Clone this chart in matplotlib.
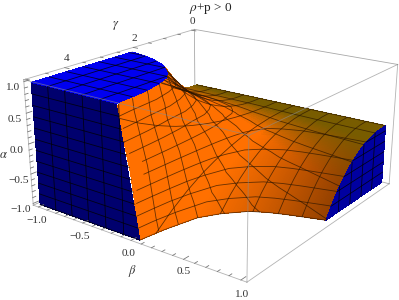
import numpy as np
import matplotlib
matplotlib.use("Agg")
import matplotlib.pyplot as plt
from mpl_toolkits.mplot3d import proj3d

# surface: for each beta, where the sheet ends and how it gets there
beta_stations = [-1.0, -0.8, -0.675, -0.5, -0.34, -0.25, -0.19, -0.14, -0.115, 0.0, 0.07, 0.1, 0.17, 0.27, 0.424, 0.55, 0.684, 0.85, 1.0]
gamma_end = [2.2, 2.3, 2.41, 2.62, 2.97, 3.25, 3.66, 4.2, 5.0, 5.0, 5.0, 4.45, 3.66, 3.25, 2.83, 2.66, 2.53, 2.4, 2.29]
alpha_end = [1.0, 1.0, 1.0, 1.0, 1.0, 1.0, 1.0, 1.0, 1.0, 0.0, -1.0, -1.0, -1.0, -1.0, -1.0, -1.0, -1.0, -1.0, -1.0]
profile_t = [0.0, 0.1, 0.2, 0.3, 0.4, 0.5, 0.6, 0.7, 0.8, 0.9, 1.0]
profile_a = [0.0, 0.004, 0.022, 0.06, 0.115, 0.195, 0.295, 0.42, 0.58, 0.77, 1.0]

alpha_ticks = [-1.0, -0.5, 0.0, 0.5, 1.0]
beta_ticks = [-1.0, -0.5, 0.0, 0.5, 1.0]
gamma_ticks = [0, 2, 4]

plt.rcParams['font.family'] = ['Liberation Serif', 'DejaVu Serif']
plt.rcParams['mathtext.fontset'] = 'stix'

W, H = 399, 300
G0, G1 = -0.1, 5.05
B0, B1 = -1.06, 1.05
A0, A1 = -1.03, 1.03
fig = plt.figure(figsize=(W / 100, H / 100), dpi=100)
ax = fig.add_axes([21.46 / W, -29.3 / H, 379.3 / W, 379.3 / H], projection="3d", computed_zorder=False)
ax.set_xlim(G0, G1)
ax.set_ylim(B0, B1)
ax.set_zlim(A0, A1)
ax.view_init(elev=19.764, azim=36.749)
ax.set_proj_type("persp", focal_length=0.434)
ax.set_box_aspect((1.01, 1.0, 0.501))
ax.set_axis_off()

MESH = dict(color="black", lw=0.6, alpha=0.8)
SHEET_MESH = dict(color="#2a1500", lw=0.6, alpha=0.7)
BOX = dict(color="#a8a8a8", lw=0.6)
FLAT = dict(rstride=1, cstride=1, linewidth=0, antialiased=False, shade=False)
beta_lines = np.linspace(-1, 1, 12)[1:-1]
alpha_lines = np.linspace(-1, 1, 12)[1:-1]
gamma_lines = np.linspace(0, 5, 12)[1:-1]


def sheet(b, t):
    g_e = np.interp(b, beta_stations, gamma_end)
    a_e = np.interp(b, beta_stations, alpha_end)
    return g_e * t, a_e * np.interp(t, profile_t, profile_a)


# box edges at the back
for p, q in [((G0, B0, A1), (G0, B1, A1)), ((G0, B0, A1), (G0, B0, A0)), ((G0, B0, A0), (G0, B1, A0)), ((G0, B0, A0), (G1, B0, A0))]:
    ax.plot(*zip(p, q), zorder=1, **BOX)

# orange sheet
bb, tt = np.meshgrid(np.linspace(-1, 1, 201), np.linspace(0, 1, 61), indexing="ij")
gg, aa = sheet(bb, tt)
olive = np.clip(1.35 - gg / 1.1 + 0.3 * bb, 0, 1)[..., None]
dim = np.clip((bb - 0.15) / 0.85, 0, 1)[..., None]
base = np.array([1.0, 0.44, 0.0]) * (1 - 0.42 * dim)
back = np.array([0.47, 0.36, 0.0])
cols = base * (1 - olive) + back * olive
ax.plot_surface(gg, bb, aa, facecolors=cols, zorder=2, **FLAT)

# mesh on the sheet: constant beta, gamma and alpha
fine_b = np.linspace(-1, 1, 801)
for b in beta_lines:
    t = np.linspace(0, 1, 40)
    g, a = sheet(np.full_like(t, b), t)
    ax.plot(g, np.full_like(t, b), a, zorder=3, **SHEET_MESH)
g_fine = np.interp(fine_b, beta_stations, gamma_end)
a_fine = np.interp(fine_b, beta_stations, alpha_end)
for lev in [0.0, *gamma_lines]:
    keep = g_fine >= lev
    t = lev / g_fine[keep]
    ax.plot(np.full(keep.sum(), lev), fine_b[keep], a_fine[keep] * np.interp(t, profile_t, profile_a), zorder=3, **SHEET_MESH)
for lev in [-1.0, *alpha_lines, 1.0]:
    ratio = lev / np.where(a_fine == 0, 1e-9, a_fine)
    keep = (ratio >= 0) & (ratio <= 1)
    g = g_fine[keep] * np.interp(ratio[keep], profile_a, profile_t)
    ax.plot(g, fine_b[keep], np.full(keep.sum(), lev), zorder=3, **SHEET_MESH)

# blue face at beta = 1
ge_r = gamma_end[-1]
tr = np.linspace(0, 1, 61)
gr = ge_r * tr
ar = alpha_end[-1] * np.interp(tr, profile_t, profile_a)
X = np.array([gr, gr])
Z = np.array([ar, -np.ones_like(ar)])
ax.plot_surface(X, np.ones_like(X), Z, color="#0000a0", zorder=4, **FLAT)
for lev in gamma_lines[gamma_lines < ge_r]:
    ax.plot([lev, lev], [1, 1], [-1, alpha_end[-1] * np.interp(lev / ge_r, profile_t, profile_a)], zorder=5, **MESH)
for lev in alpha_lines[alpha_lines < 0]:
    ax.plot([0, ge_r * np.interp(lev / alpha_end[-1], profile_a, profile_t)], [1, 1], [lev, lev], zorder=5, **MESH)

# blue face at gamma = 5
front_a = [-1, 0, 1]
front_b = [0.07, 0.0, -0.115]
a_lev = np.array([-1.0, 1.0])
Y = np.array([[-1.0, -1.0], np.interp(a_lev, front_a, front_b)])
Z = np.array([a_lev, a_lev])
ax.plot_surface(np.full_like(Y, 5.0), Y, Z, color="#00006e", zorder=6, **FLAT)
for lev in [-1.0, *alpha_lines, 1.0]:
    ax.plot([5, 5], [-1, np.interp(lev, front_a, front_b)], [lev, lev], zorder=7, **MESH)
for lev in beta_lines[beta_lines < -0.05]:
    ax.plot([5, 5], [lev, lev], [-1, 1], zorder=7, **MESH)

# blue top at alpha = 1
bt = np.linspace(-1, -0.115, 121)
gt = np.interp(bt, beta_stations, gamma_end)
X = np.array([gt, np.full_like(gt, 5.0)])
Y = np.array([bt, bt])
ax.plot_surface(X, Y, np.ones_like(X), color="#0000f0", zorder=8, **FLAT)
for lev in beta_lines[beta_lines < -0.115]:
    ax.plot([np.interp(lev, beta_stations, gamma_end), 5], [lev, lev], [1, 1], zorder=9, **MESH)
for lev in gamma_lines[gamma_lines > gamma_end[0]]:
    ax.plot([lev, lev], [-1, bt[gt <= lev].max()], [1, 1], zorder=9, **MESH)

# box edges in front
for p, q in [((G1, B0, A1), (G1, B1, A1)), ((G0, B1, A1), (G1, B1, A1)), ((G1, B1, A1), (G1, B1, A0)), ((G0, B1, A1), (G0, B1, A0)),
             ((G0, B1, A0), (G1, B1, A0)), ((G1, B0, A0), (G1, B1, A0)), ((G1, B0, A1), (G1, B0, A0)), ((G0, B0, A1), (G1, B0, A1))]:
    ax.plot(*zip(p, q), zorder=10, color="#8a8a8a", lw=0.6, alpha=0.65)

# ticks
TICK = dict(color="#777777", lw=0.6, zorder=11)
for v in np.arange(-1, 1.01, 0.1):
    ln = 0.14 if abs(round(v * 2) - v * 2) < 1e-6 else 0.08
    ax.plot([G1, G1 - ln], [B0, B0], [v, v], **TICK)
    ax.plot([G1, G1 - ln], [v, v], [A0, A0], **TICK)
for v in np.arange(0, 5.01, 0.5):
    ln = 0.05 if v % 2 == 0 else 0.03
    ax.plot([v, v], [B0, B0 + ln], [A1, A1], **TICK)


def tick_text(g, b, a, txt, dx, dy):
    x, y, _ = proj3d.proj_transform(g, b, a, ax.get_proj())
    ax.annotate(txt, (x, y), xytext=(dx, dy), textcoords="offset pixels", ha="center", va="center",
                fontsize=8.2, color="#333333", annotation_clip=False)


for v in alpha_ticks:
    tick_text(G1, B0, v, f"{v:.1f}".replace("-", "\u2212"), -12, -6)
beta_off = [(-2, -13), (-3, -13), (-2, -13), (0, -12), (0, -14)]
for v, (dx, dy) in zip(beta_ticks, beta_off):
    tick_text(G1, v, A0, f"{v:.1f}".replace("-", "\u2212"), dx, dy)
gamma_off = [(1, 9), (1, 9), (2, 9)]
for v, (dx, dy) in zip(gamma_ticks, gamma_off):
    tick_text(v, B0, A1, str(v), dx, dy)

fig.text(116 / W, 1 - 25 / H, r"$\gamma$", fontsize=9, ha="center", va="center", color="#333333")
fig.text(3 / W, 1 - 155 / H, r"$\alpha$", fontsize=9, ha="center", va="center", color="#333333")
fig.text(132 / W, 1 - 271 / H, r"$\beta$", fontsize=9, ha="center", va="center", color="#333333")
fig.text(211 / W, 1 - 8 / H, r"$\rho$+p > 0", fontsize=9.5, ha="center", va="center", color="#222222")

fig.savefig("out.png", dpi=100)
